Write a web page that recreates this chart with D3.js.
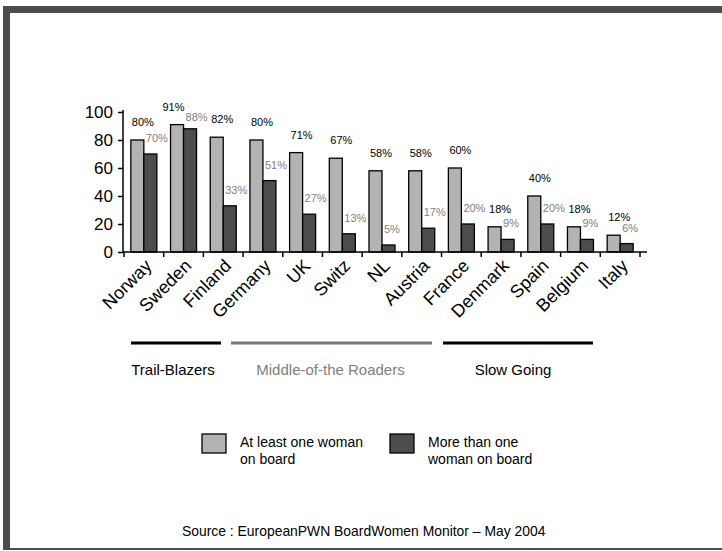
<!DOCTYPE html>
<html><head><meta charset="utf-8">
<script src="https://cdn.jsdelivr.net/npm/d3@7"></script>
<style>body{margin:0;background:#fff}svg{display:block;font-family:"Liberation Sans",Arial,sans-serif}</style>
</head><body><svg id="c" width="722" height="551"></svg>
<script>
const categories = ["Norway","Sweden","Finland","Germany","UK","Switz","NL","Austria","France","Denmark","Spain","Belgium","Italy"];
const atLeastOne = [80,91,82,80,71,67,58,58,60,18,40,18,12];
const moreThanOne = [70,88,33,51,27,13,5,17,20,9,20,9,6];
const yTicks = [0,20,40,60,80,100];
const groups = ["Trail-Blazers","Middle-of-the Roaders","Slow Going"];
const legendLabels = [["At least one woman","on board"],["More than one","woman on board"]];
const sourceText = "Source : EuropeanPWN BoardWomen Monitor \u2013 May 2004";

const svg = d3.select("#c");
const LIGHT = "#b3b3b3", DARK = "#4d4d4d";

// frame
svg.append("rect").attr("x",3).attr("y",6).attr("width",719).attr("height",7).attr("fill","#4d4d4d");
svg.append("rect").attr("x",3).attr("y",6).attr("width",7).attr("height",544).attr("fill","#4d4d4d");
svg.append("rect").attr("x",3).attr("y",548).attr("width",719).attr("height",2).attr("fill","#4d4d4d");

const x = d3.scaleBand().domain(categories).range([124,640]).padding(0);
const y = d3.scaleLinear().domain([0,100]).range([252,112]);
const bw = x.bandwidth(), barW = 13;

// y axis
const ya = svg.append("g").attr("transform","translate(123,0)")
  .call(d3.axisLeft(y).tickValues(yTicks).tickSize(5).tickSizeOuter(0).tickPadding(5));
ya.select(".domain").attr("stroke","#000").attr("stroke-width",1.5).attr("d","M0,252V110");
ya.selectAll(".tick line").attr("stroke","#000").attr("stroke-width",1.5);
ya.selectAll(".tick text").attr("font-size",17).attr("font-family","Liberation Sans, Arial").attr("fill","#000");

// bars
const g = svg.append("g");
categories.forEach((c,i)=>{
  const cx = x(c)+bw/2;
  const a = atLeastOne[i], m = moreThanOne[i];
  const close = (a - m) < 6;
  g.append("rect").attr("x",cx-barW).attr("y",y(a)).attr("width",barW)
    .attr("height",y(0)-y(a)).attr("fill",LIGHT).attr("stroke","#000").attr("stroke-width",1.3);
  g.append("rect").attr("x",cx).attr("y",y(m)).attr("width",barW)
    .attr("height",y(0)-y(m)).attr("fill",DARK).attr("stroke","#000").attr("stroke-width",1.3);
  g.append("text").attr("x",close ? cx+1 : cx-barW+1).attr("y",y(a)-14).attr("font-size",11)
    .attr("text-anchor",close ? "end" : "start")
    .attr("fill","#000").text(a+"%");
  g.append("text").attr("x",cx+2).attr("y",y(m)-(close?8:12)).attr("font-size",11)
    .attr("fill","#808080").text(m+"%");
});

// x axis
const xa = svg.append("g");
xa.append("line").attr("x1",123).attr("x2",647).attr("y1",252).attr("y2",252).attr("stroke","#000").attr("stroke-width",1.5);
const edges = categories.map(c=>x(c)).concat([x(categories[categories.length-1])+bw]);
xa.selectAll("line.t").data(edges).join("line").attr("class","t")
  .attr("x1",d=>d).attr("x2",d=>d).attr("y1",252).attr("y2",257).attr("stroke","#000").attr("stroke-width",1.5);
xa.selectAll("text").data(categories).join("text")
  .attr("transform",d=>`translate(${x(d)+bw/2+9},267) rotate(-45)`)
  .attr("text-anchor","end").attr("font-size",18).attr("fill","#000").text(d=>d);

// group lines
const groupSpans = [[131,221,"#000"],[231,432,"#777"],[443,593,"#000"]];
groups.forEach((name,i)=>{
  const [a,b,col] = groupSpans[i];
  svg.append("line").attr("x1",a).attr("x2",b).attr("y1",343).attr("y2",343).attr("stroke",col).attr("stroke-width",3);
  svg.append("text").attr("x",(a+b)/2 - (i===0?3:(i===1?1:5))).attr("y",375).attr("text-anchor","middle")
    .attr("font-size",15).attr("fill",i===1?"#808080":"#000").text(name);
});

// legend
const legX = [202,390];
[LIGHT,DARK].forEach((col,i)=>{
  svg.append("rect").attr("x",legX[i]).attr("y",434).attr("width",24).attr("height",19)
    .attr("fill",col).attr("stroke","#000").attr("stroke-width",1.3);
  legendLabels[i].forEach((t,j)=>{
    svg.append("text").attr("x",legX[i]+38).attr("y",447+j*17).attr("font-size",14).attr("fill","#000").text(t);
  });
});

// source
svg.append("text").attr("x",182).attr("y",536).attr("font-size",13.9).attr("fill","#000").text(sourceText);
</script></body></html>
